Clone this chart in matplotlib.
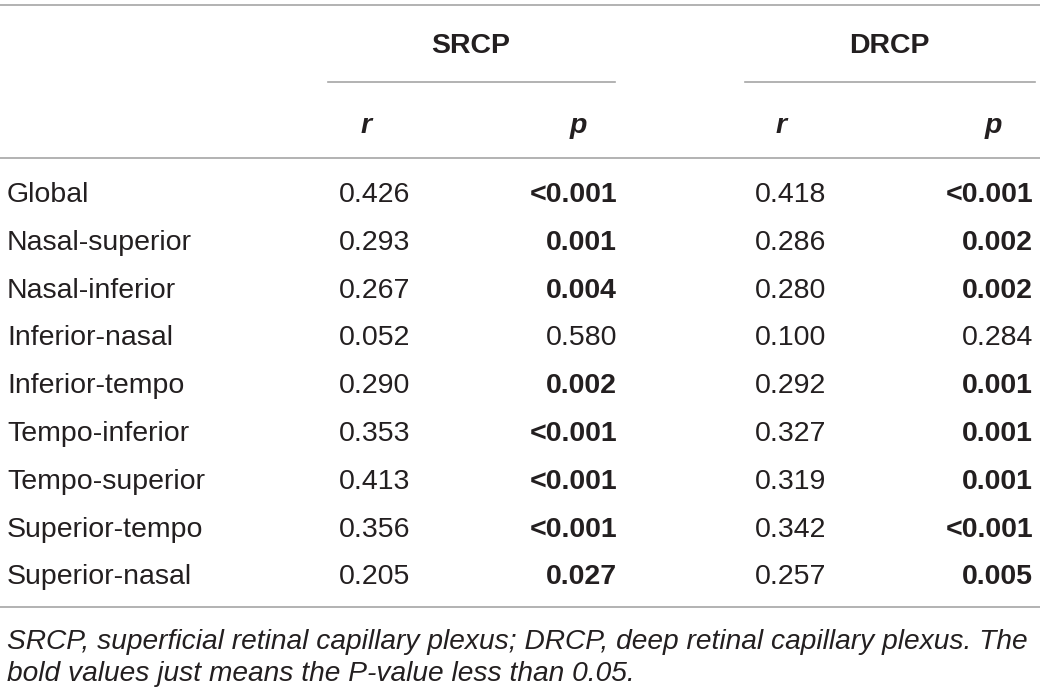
import matplotlib.pyplot as plt

regions = ['Global', 'Nasal-superior', 'Nasal-inferior', 'Inferior-nasal',
           'Inferior-tempo', 'Tempo-inferior', 'Tempo-superior',
           'Superior-tempo', 'Superior-nasal']
srcp_r = ['0.426', '0.293', '0.267', '0.052', '0.290', '0.353', '0.413', '0.356', '0.205']
srcp_p = ['<0.001', '0.001', '0.004', '0.580', '0.002', '<0.001', '<0.001', '<0.001', '0.027']
drcp_r = ['0.418', '0.286', '0.280', '0.100', '0.292', '0.327', '0.319', '0.342', '0.257']
drcp_p = ['<0.001', '0.002', '0.002', '0.284', '0.001', '0.001', '0.001', '<0.001', '0.005']
groups = ['SRCP', 'DRCP']
footnote = ['SRCP, superficial retinal capillary plexus; DRCP, deep retinal capillary plexus. The',
            'bold values just means the P-value less than 0.05.']


def is_sig(p):
    return p.startswith('<') or float(p) < 0.05


plt.rcParams['font.family'] = ['Liberation Sans', 'DejaVu Sans']
txt = '#231f20'
line_c = '#a6a6a6'
fs = 20.5

fig = plt.figure(figsize=(10.4, 6.94), dpi=100)
ax = fig.add_axes([0, 0, 1, 1])
ax.set_xlim(0, 1040)
ax.set_ylim(694, 0)
ax.axis('off')

# rules
ax.plot([0, 1040], [5, 5], color=line_c, lw=1.2)
ax.plot([328, 615], [82, 82], color=line_c, lw=1.2)
ax.plot([745, 1035], [82, 82], color=line_c, lw=1.2)
ax.plot([0, 1040], [158, 158], color=line_c, lw=1.2)
ax.plot([0, 1040], [607, 607], color=line_c, lw=1.2)

# header
ax.text(471, 46, groups[0], ha='center', va='center', fontsize=fs, fontweight='bold', color=txt)
ax.text(889, 46, groups[1], ha='center', va='center', fontsize=fs, fontweight='bold', color=txt)
for xr, xp in [(366, 578), (781, 993)]:
    ax.text(xr, 126, 'r', ha='center', va='center', fontsize=fs, fontweight='bold',
            style='italic', color=txt)
    ax.text(xp, 126, 'p', ha='center', va='center', fontsize=fs, fontweight='bold',
            style='italic', color=txt)

# body
y0, dy = 195, 47.8
for i, reg in enumerate(regions):
    y = y0 + i * dy
    ax.text(7, y, reg, ha='left', va='center', fontsize=fs, color=txt)
    ax.text(375, y, srcp_r[i], ha='center', va='center', fontsize=fs, color=txt)
    ax.text(617, y, srcp_p[i], ha='right', va='center', fontsize=fs, color=txt,
            fontweight='bold' if is_sig(srcp_p[i]) else 'normal')
    ax.text(791, y, drcp_r[i], ha='center', va='center', fontsize=fs, color=txt)
    ax.text(1033, y, drcp_p[i], ha='right', va='center', fontsize=fs, color=txt,
            fontweight='bold' if is_sig(drcp_p[i]) else 'normal')

# footnote
for j, line in enumerate(footnote):
    ax.text(7, 642 + j * 32, line, ha='left', va='center', fontsize=fs * 0.99,
            style='italic', color=txt)

fig.savefig('out.png', dpi=100)
